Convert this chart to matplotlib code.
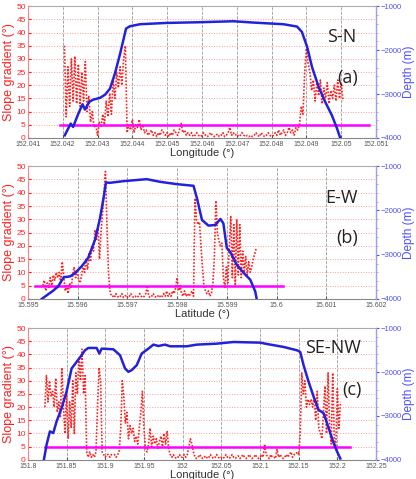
import numpy as np
import matplotlib
matplotlib.use("Agg")
import matplotlib.pyplot as plt
from matplotlib.ticker import MultipleLocator

# ---- panel (a) S-N ----
a_xlim = (152.041, 152.051)
a_ticks = [152.041, 152.042, 152.043, 152.044, 152.045, 152.046, 152.047, 152.048, 152.049, 152.05, 152.051]
a_ticklabels = ["152.041", "152.042", "152.043", "152.044", "152.045", "152.046", "152.047", "152.048", "152.049", "152.05", "152.051"]
a_slope_range = (152.04205, 152.05005)
a_slope = [35, 8, 27, 12, 30, 14, 31, 13, 28, 12, 25, 14, 29, 10, 16, 6, 10, 4, 5, 1,
           6, 4, 9, 5, 14, 8, 17, 9, 22, 15, 25, 19, 27, 20, 30, 35, 2, 5, 3, 7,
           2, 5, 4, 7, 3, 5, 2, 3, 1, 2, 3, 1, 2, 0.5, 2, 1, 3, 2, 1, 2,
           0.5, 2, 1, 3, 2, 1, 3, 5.5, 2, 3, 1, 2, 1, 2, 0.5, 1, 2, 1, 0.5, 1,
           2, 1, 0.5, 1, 2, 1, 0.5, 1, 1.5, 0.5, 1, 2, 0.5, 1, 2, 4, 1, 2, 1, 1.5,
           0.5, 1, 2, 1, 0.5, 1, 0.5, 1, 0.5, 1, 2, 1, 0.5, 2, 1, 0.5, 1, 2, 1, 0.5,
           1, 2, 1, 3, 1, 2, 3, 1, 2, 4, 2, 3, 1, 4, 3, 5, 12, 9, 25, 34,
           28, 25, 18, 22, 14, 21, 16, 22, 13, 19, 15, 21, 13, 18, 15, 20, 14, 22, 15, 21, 14]
a_depth_x = [152.04206, 152.04223, 152.0423, 152.04245, 152.04257, 152.04264, 152.04276, 152.04288,
             152.04307, 152.04322, 152.04336, 152.0435, 152.04365, 152.04382, 152.04393, 152.04422,
             152.04499, 152.04547, 152.04595, 152.0469, 152.04748, 152.04834, 152.04873, 152.04887,
             152.04902, 152.04916, 152.04935, 152.04954, 152.04973, 152.04988, 152.04997]
a_depth = [-3939, -3673, -3749, -3445, -3232, -3354, -3179, -3126,
           -3088, -3012, -2875, -2534, -2078, -1509, -1456, -1410,
           -1380, -1372, -1364, -1342, -1372, -1410, -1463, -1585,
           -1926, -2382, -2837, -3179, -3483, -3787, -4000]
a_limit_x = [152.04192, 152.05081]

# ---- panel (b) E-W ----
b_xlim = (15.595, 15.602)
b_ticks = [15.595, 15.596, 15.597, 15.598, 15.599, 15.6, 15.601, 15.602]
b_ticklabels = ["15.595", "15.596", "15.597", "15.598", "15.599", "15.6", "15.601", "15.602"]
b_slope_range = (15.5953, 15.59959)
b_slope = [5, 7, 3, 6, 4, 8, 5, 9, 7, 10, 8, 10, 6, 14, 9, 3, 5, 2, 6, 4,
           9, 12, 8, 11, 7, 6, 9, 12, 10, 15, 11, 17, 14, 20, 18, 26, 22, 28, 15, 25,
           32, 40, 48, 28, 10, 3, 1,
           1, 0.5, 2, 1, 0.5, 1, 2, 0.5, 1, 1.5, 0.5, 1, 2, 1, 0.5, 1, 0.5, 1, 2, 1,
           0.5, 1, 2, 5, 1, 0.5, 1, 2, 1, 0.5, 1, 1.5, 0.5, 1, 2, 1, 3, 1, 2, 1, 3,
           2, 4, 8, 3, 5, 2, 1, 3, 1, 2, 1, 2, 3, 1,
           38, 30, 28, 29, 20, 12, 5, 3, 2, 3, 1, 2, 6, 16, 37, 25, 22, 20, 21,
           8, 4, 12, 6, 20, 31, 8, 28, 5, 30, 9, 28, 8, 18, 10, 16, 9, 14, 10, 12, 15, 17, 19]
b_depth_x = [15.59528, 15.59538, 15.59551, 15.59561, 15.59572, 15.59585, 15.59595, 15.59608,
             15.59621, 15.59635, 15.59645, 15.59652, 15.59657, 15.59665, 15.59692, 15.59739,
             15.59766, 15.59799, 15.59833, 15.5984, 15.5985, 15.59863, 15.59877, 15.59887,
             15.59893, 15.599, 15.59907, 15.5992, 15.59934, 15.59947, 15.59957, 15.5996]
b_depth = [-4000, -3918, -3813, -3715, -3512, -3490, -3415, -3265,
           -3078, -2665, -2178, -1728, -1368, -1375, -1338, -1293,
           -1353, -1405, -1443, -1728, -2215, -2343, -2328, -2193,
           -2290, -2853, -2943, -3228, -3415, -3565, -3828, -4000]
b_limit_x = [15.59514, 15.60013]

# ---- panel (c) SE-NW ----
c_xlim = (151.8, 152.25)
c_ticks = [151.8, 151.85, 151.9, 151.95, 152.0, 152.05, 152.1, 152.15, 152.2, 152.25]
c_ticklabels = ["151.8", "151.85", "151.9", "151.95", "152", "152.05", "152.1", "152.15", "152.2", "152.25"]
c_slope_range = (151.822, 152.204)
c_slope = [20, 32, 22, 30, 24, 26, 20, 31, 18, 22, 16, 35, 20, 10, 25, 8, 22, 12, 30, 10,
           33, 25, 39, 30, 42, 25, 32, 3, 1, 3, 1, 2, 1, 3, 20, 35, 30, 3, 2, 1,
           2, 2, 1, 2, 2, 2, 1, 2, 3, 12, 30, 24, 14, 18, 8, 13, 10, 12, 7, 9,
           6, 12, 18, 26, 12, 4, 3, 6, 12, 5, 9, 6, 8, 4, 7, 9, 5, 10, 6, 11,
           4, 2, 1, 2, 1, 0.5, 1, 2, 1, 1, 2, 1, 2, 5, 8, 6, 3,
           1, 0.5, 1, 2, 1, 0.5, 1, 1.5, 0.5, 1, 2, 1, 0.5, 1, 2, 1, 0.5, 1, 0.5, 1,
           2, 1, 0.5, 1, 2, 1, 0.5, 1, 1.5, 0.5, 1, 2, 1, 0.5, 1, 2, 1, 0.5, 1, 2,
           1, 0.5, 1, 2, 1,
           6, 2,
           1, 0.5, 2, 1, 1, 0.5, 4, 1, 2, 1, 0.5,
           1, 2, 1, 2, 3, 1, 2, 2, 3, 2,
           10, 33, 25, 30, 20, 23, 21, 23, 20, 24, 15, 26, 12, 10, 8, 18, 28, 10, 33, 12,
           6, 33, 8, 5, 27, 12, 22]
c_depth_x = [151.8207, 151.8242, 151.8285, 151.8328, 151.8371, 151.8436, 151.85, 151.8565,
             151.863, 151.8694, 151.8738, 151.8781, 151.8889, 151.8924, 151.8954, 151.9105,
             151.9191, 151.9256, 151.9299, 151.9342, 151.9407, 151.9471, 151.9558, 151.9622,
             151.9687, 151.9773, 151.9838, 152.0054, 152.0183, 152.0442, 152.0658, 152.1003,
             152.1089, 152.1305, 152.1478, 152.152, 152.1563, 152.1628, 152.1693, 152.1757,
             152.1822, 152.1887, 152.1951, 152.1994, 152.2038]
c_depth = [-4000, -3653, -3352, -3390, -3126, -2824, -2447, -1920,
           -1769, -1618, -1505, -1452, -1452, -1580, -1467, -1482,
           -1618, -1920, -1995, -1957, -1844, -1580, -1467, -1376,
           -1407, -1376, -1414, -1414, -1376, -1354, -1316, -1331,
           -1361, -1429, -1505, -1543, -1844, -2221, -2560, -2862,
           -2937, -3276, -3616, -3804, -3970]
c_limit_x = [151.822, 152.2167]

slope_limit = 5

RED = "#ff2020"
BLUE = "#2222dd"
AXBLUE = "#5050ff"
MAGENTA = "#ff00ff"
GRAY = "#555555"

plt.rcParams["font.family"] = ["Liberation Sans", "DejaVu Sans"]

fig = plt.figure(figsize=(4.16, 4.79), dpi=100)

panels = [
    ([0.067, 0.712, 0.837, 0.275], a_xlim, a_ticks, a_ticklabels, a_slope_range, a_slope,
     a_depth_x, a_depth, a_limit_x, "Longitude (°)", "S-N", (0.90, 0.765), "(a)", (0.917, 0.455)),
    ([0.067, 0.376, 0.837, 0.277], b_xlim, b_ticks, b_ticklabels, b_slope_range, b_slope,
     b_depth_x, b_depth, b_limit_x, "Latitude (°)", "E-W", (0.90, 0.76), "(b)", (0.917, 0.46)),
    ([0.067, 0.040, 0.837, 0.275], c_xlim, c_ticks, c_ticklabels, c_slope_range, c_slope,
     c_depth_x, c_depth, c_limit_x, "Longitude (°)", "SE-NW", (0.876, 0.85), "(c)", (0.93, 0.53)),
]

for (rect, xlim, ticks, ticklabels, srange, slope, dx, depth, limx, xlabel,
     name, name_pos, tag, tag_pos) in panels:
    ax = fig.add_axes(rect)
    sx = np.linspace(srange[0], srange[1], len(slope))
    ax.plot(sx, slope, color=RED, linestyle=(0, (1, 1)), linewidth=1.2, zorder=3)
    ax.plot(limx, [slope_limit, slope_limit], color=MAGENTA, linewidth=1.8, zorder=4)
    ax.set_xlim(*xlim)
    ax.set_ylim(0, 50)
    ax.yaxis.set_major_locator(MultipleLocator(5))
    ax.set_xticks(ticks)
    ax.set_xticklabels(ticklabels)
    ax.tick_params(axis="x", labelsize=5, colors=GRAY, direction="in", length=2, pad=2.5)
    ax.tick_params(axis="y", labelsize=6, colors=RED, direction="in", length=2, pad=1.5)
    ax.xaxis.grid(True, color="#999999", linestyle="--", linewidth=0.6)
    ax.yaxis.grid(True, color="#ff9999", linestyle=":", linewidth=0.7)
    ax.set_axisbelow(True)
    ax.set_ylabel("Slope gradient (°)", color=RED, fontsize=9, labelpad=1)
    ax.set_xlabel(xlabel, color="#333333", fontsize=8, labelpad=0)
    ax.spines["left"].set_color("#ff8080")
    ax.spines["top"].set_color("#aaaaaa")
    ax.spines["bottom"].set_color("#888888")

    ax2 = ax.twinx()
    ax2.plot(dx, depth, color=BLUE, linewidth=1.8, zorder=5)
    ax2.set_ylim(-4000, -1000)
    ax2.set_yticks([-4000, -3000, -2000, -1000])
    ax2.yaxis.set_minor_locator(MultipleLocator(200))
    ax2.tick_params(axis="y", which="major", labelsize=5.5, colors=AXBLUE, direction="out", length=2.5, pad=0.5)
    ax2.tick_params(axis="y", which="minor", colors="#9a9aff", direction="out", length=1.5)
    ax2.set_ylabel("Depth (m)", color=AXBLUE, fontsize=8.5, labelpad=1)
    ax2.spines["right"].set_color("#9a9aff")
    ax2.spines["left"].set_visible(False)
    ax2.spines["top"].set_visible(False)
    ax2.spines["bottom"].set_visible(False)

    ax2.text(name_pos[0], name_pos[1], name, transform=ax.transAxes, fontsize=13,
             ha="center", va="center", color="#222222", family=["Open Sans", "DejaVu Sans"], zorder=6)
    ax2.text(tag_pos[0], tag_pos[1], tag, transform=ax.transAxes, fontsize=13,
             ha="center", va="center", color="#222222", family=["Open Sans", "DejaVu Sans"], zorder=6)

fig.savefig("out.png", dpi=100)
